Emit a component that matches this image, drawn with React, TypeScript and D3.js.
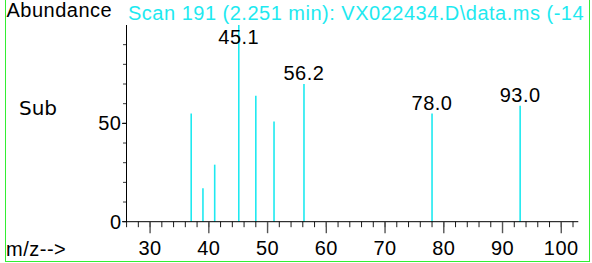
import React from "react";
import * as d3 from "d3";

const mzValues = [37, 39, 41, 45.1, 48, 51.1, 56.2, 78, 93];
const abundances = [55, 17, 29, 100, 64, 51, 70, 55, 59];
const labeledMz = [45.1, 56.2, 78.0, 93.0];
const xMajorTicks = [30, 40, 50, 60, 70, 80, 90, 100];
const xMinorTicks = d3.range(26, 103, 2);
const yMajorTicks = [0, 50];
const yMinorTicks = d3.range(0, 100, 10);
const titleLeft = "Abundance";
const titleScan = "Scan 191 (2.251 min): VX022434.D\\data.ms (-14";
const sideLabel = "Sub";
const xAxisLabel = "m/z-->";

const W = 592;
const H = 263;
const CYAN = "#1ee9f0";
const FONT = "'Liberation Sans', Arial, sans-serif";

export default function App() {
  const x = d3.scaleLinear().domain([25.9, 102.9]).range([126, 578.3]);
  const y = d3.scaleLinear().domain([0, 100]).range([221.7, 25]);
  const y0 = y(0);
  const txt = { fontFamily: FONT, fontSize: 20, letterSpacing: 0.5 } as const;

  return (
    <svg
      width={W}
      height={H}
      style={{ position: "absolute", left: 0, top: 0, background: "#fff" }}
    >
      <defs>
        <clipPath id="frame">
          <rect x={6} y={0} width={583} height={261} />
        </clipPath>
      </defs>
      {/* frame */}
      <line x1={5.5} x2={5.5} y1={0} y2={262} stroke="#33ee33" strokeWidth={1} />
      <line x1={589.5} x2={589.5} y1={0} y2={262} stroke="#33ee33" strokeWidth={1} />
      <line x1={5} x2={590} y1={261.5} y2={261.5} stroke="#33ee33" strokeWidth={1} />

      <g clipPath="url(#frame)">
        <text x={6.5} y={17} {...txt} fill="#000">{titleLeft}</text>
        <text x={128} y={20} {...txt} fill={CYAN}>{titleScan}</text>
      </g>

      <text x={19} y={114.5} fontFamily="'DejaVu Sans', sans-serif" fontSize={20} fill="#000">
        {sideLabel}
      </text>
      <text x={6} y={256} {...txt} fill="#000">{xAxisLabel}</text>

      {/* peaks */}
      {mzValues.map((m, i) => (
        <line
          key={"p" + i}
          x1={x(m)}
          x2={x(m)}
          y1={y0}
          y2={y(abundances[i])}
          stroke={CYAN}
          strokeWidth={1.6}
        />
      ))}

      {/* peak labels */}
      {labeledMz.map((m) => {
        const i = mzValues.findIndex((v) => Math.abs(v - m) < 0.05);
        const top = y(abundances[i]);
        return (
          <text
            key={"l" + m}
            x={x(m)}
            y={Math.max(top - 4, 44)}
            textAnchor="middle"
            {...txt}
            fill="#000"
          >
            {m.toFixed(1)}
          </text>
        );
      })}

      {/* y axis */}
      <line x1={126.5} x2={126.5} y1={y(100)} y2={y0} stroke="#000" />
      {yMinorTicks.map((t) => (
        <line key={"ym" + t} x1={123} x2={126.5} y1={y(t)} y2={y(t)} stroke="#000" strokeWidth={0.8} />
      ))}
      {yMajorTicks.map((t) => (
        <g key={"yM" + t}>
          <line x1={122} x2={126.5} y1={y(t)} y2={y(t)} stroke="#000" />
          <text x={121.5} y={y(t) + 7} textAnchor="end" {...txt} fill="#000">
            {t}
          </text>
        </g>
      ))}

      {/* x axis */}
      <line x1={126} x2={578.3} y1={y0} y2={y0} stroke="#000" />
      {xMinorTicks.map((t) => (
        <line key={"xm" + t} x1={x(t)} x2={x(t)} y1={y0} y2={y0 + 5.5} stroke="#000" strokeWidth={0.9} />
      ))}
      {xMajorTicks.map((t) => (
        <g key={"xM" + t}>
          <line x1={x(t)} x2={x(t)} y1={y0} y2={y0 + 11.5} stroke="#555" strokeWidth={1.4} />
          <text x={x(t)} y={255} textAnchor="middle" {...txt} fill="#000">
            {t}
          </text>
        </g>
      ))}
    </svg>
  );
}
